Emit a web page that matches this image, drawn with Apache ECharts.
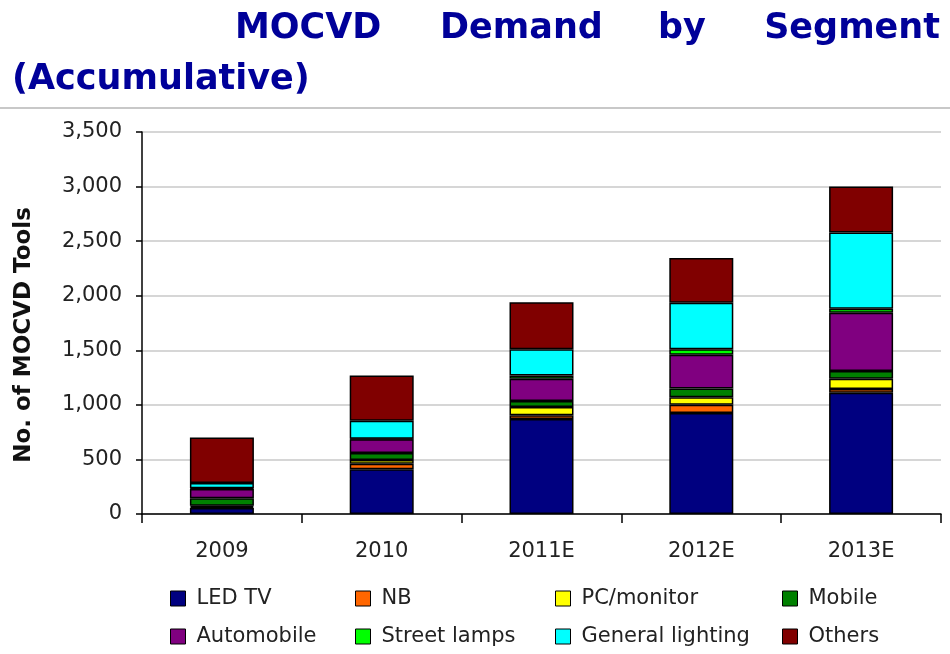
<!DOCTYPE html>
<html>
<head>
<meta charset="utf-8">
<script src="https://cdn.jsdelivr.net/npm/echarts@6/dist/echarts.min.js"></script>
<style>
html,body{margin:0;padding:0;background:#fff;}
#main{width:950px;height:654px;}
</style>
</head>
<body>
<div id="main"></div>
<script>
const categories = ['2009', '2010', '2011E', '2012E', '2013E'];
const ledTV = [55, 410, 870, 925, 1110];
const nb = [10, 50, 35, 75, 35];
const pcMonitor = [10, 35, 75, 70, 95];
const mobile = [70, 65, 55, 80, 70];
const automobile = [85, 125, 205, 310, 535];
const streetLamps = [5, 5, 30, 50, 35];
const generalLighting = [50, 165, 240, 425, 700];
const others = [415, 415, 430, 410, 420];
const yTicks = { min: 0, max: 3500, interval: 500 };

const seriesDefs = [
  { name: 'LED TV', data: ledTV, color: '#000080' },
  { name: 'NB', data: nb, color: '#FF6600' },
  { name: 'PC/monitor', data: pcMonitor, color: '#FFFF00' },
  { name: 'Mobile', data: mobile, color: '#008000' },
  { name: 'Automobile', data: automobile, color: '#800080' },
  { name: 'Street lamps', data: streetLamps, color: '#00FF00' },
  { name: 'General lighting', data: generalLighting, color: '#00FFFF' },
  { name: 'Others', data: others, color: '#800000' }
];

const FONT = 'DejaVu Sans';
const legendPos = [
  [170, 588], [355, 588], [555, 588], [782, 588],
  [170, 626], [355, 626], [555, 626], [782, 626]
];
const legends = seriesDefs.map((s, i) => ({
  data: [s.name],
  left: legendPos[i][0],
  top: legendPos[i][1],
  padding: 0,
  itemWidth: 15,
  itemHeight: 15,
  itemGap: 0,
  icon: 'rect',
  itemStyle: { borderColor: '#000', borderWidth: 1 },
  textStyle: { fontFamily: FONT, fontSize: 21, color: '#222', padding: [0, 0, 0, 6] }
}));

const titleStyle = { fontFamily: FONT, fontWeight: 'bold', fontSize: 35, fill: '#000099' };
const chart = echarts.init(document.getElementById('main'), null, { renderer: 'canvas' });
chart.setOption({
  animation: false,
  backgroundColor: '#fff',
  graphic: [
    { type: 'text', left: 235, top: 11, style: Object.assign({ text: 'MOCVD' }, titleStyle) },
    { type: 'text', left: 440, top: 11, style: Object.assign({ text: 'Demand' }, titleStyle) },
    { type: 'text', left: 658, top: 11, style: Object.assign({ text: 'by' }, titleStyle) },
    { type: 'text', right: 10, top: 11, style: Object.assign({ text: 'Segment' }, titleStyle) },
    { type: 'text', left: 12, top: 62, style: Object.assign({ text: '(Accumulative)' }, titleStyle) },
    { type: 'line', shape: { x1: 0, y1: 108, x2: 950, y2: 108 }, style: { stroke: '#c8c8c8', lineWidth: 2 } }
  ],
  legend: legends,
  grid: { left: 142, right: 9, top: 132, bottom: 140, containLabel: false },
  xAxis: {
    type: 'category',
    data: categories,
    axisLine: { lineStyle: { color: '#000', width: 1.5 } },
    axisTick: { show: true, alignWithLabel: false, length: 9, lineStyle: { color: '#000', width: 1.5 } },
    axisLabel: { fontFamily: FONT, fontSize: 21, color: '#222', margin: 27 }
  },
  yAxis: {
    type: 'value',
    min: yTicks.min, max: yTicks.max, interval: yTicks.interval,
    name: 'No. of MOCVD Tools',
    nameLocation: 'middle',
    nameGap: 106,
    nameRotate: 90,
    nameTextStyle: { fontFamily: FONT, fontSize: 23, fontWeight: 'bold', color: '#111', padding: [0, 24, 0, 0] },
    axisLine: { show: true, lineStyle: { color: '#000', width: 1.5 } },
    axisTick: { show: true, length: 6, lineStyle: { color: '#000', width: 1.5 } },
    splitLine: { show: true, lineStyle: { color: '#c8c8c8', width: 1.5 } },
    axisLabel: {
      fontFamily: FONT, fontSize: 21, color: '#222', margin: 20,
      formatter: v => v.toLocaleString('en-US')
    }
  },
  series: seriesDefs.map(s => ({
    name: s.name,
    type: 'bar',
    stack: 'total',
    data: s.data,
    barWidth: 64,
    itemStyle: { color: s.color, borderColor: '#000', borderWidth: 1.5 }
  }))
});
</script>
</body>
</html>
